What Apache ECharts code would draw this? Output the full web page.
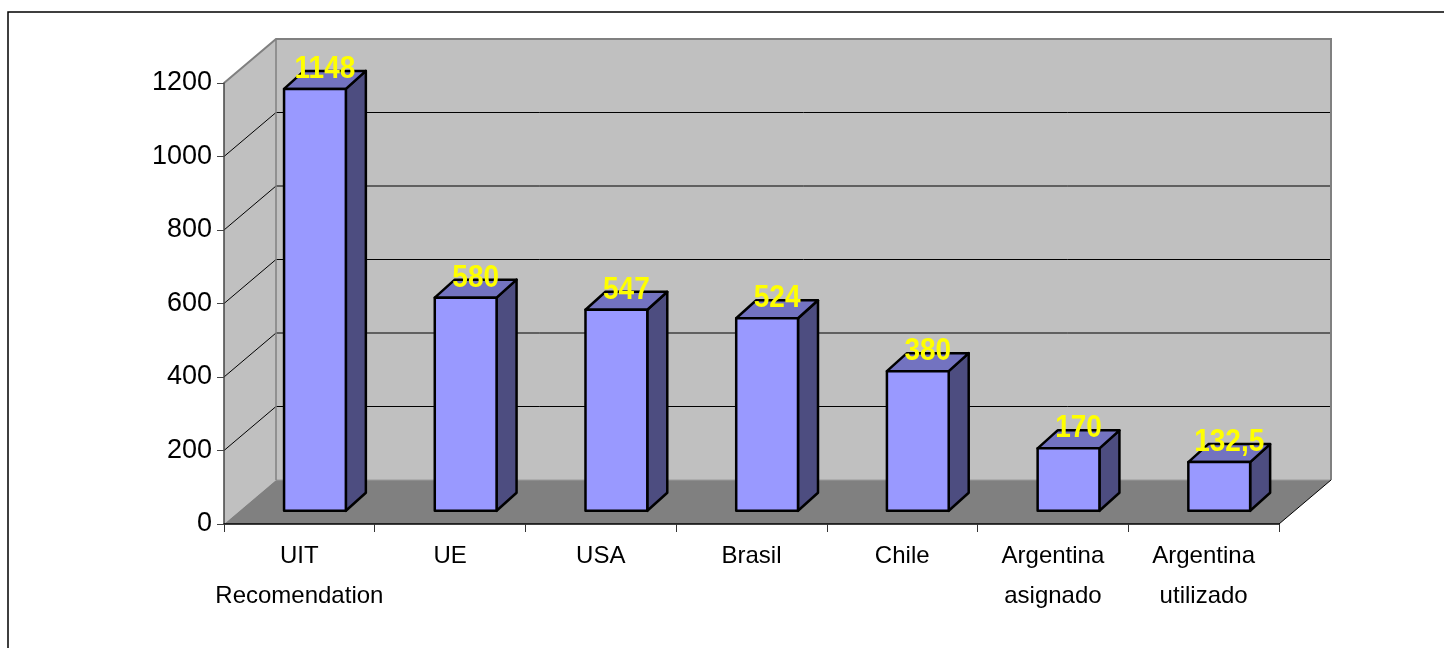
<!DOCTYPE html>
<html>
<head>
<meta charset="utf-8">
<script src="https://cdn.jsdelivr.net/npm/echarts@6/dist/echarts.min.js"></script>
<style>
html,body{margin:0;padding:0;background:#fff;}
#chart{width:1444px;height:648px;}
</style>
</head>
<body>
<div id="chart"></div>
<script>
const categories = ['UIT\nRecomendation', 'UE', 'USA', 'Brasil', 'Chile', 'Argentina\nasignado', 'Argentina\nutilizado'];
const values = [1148, 580, 547, 524, 380, 170, 132.5];
const yTicks = [0, 200, 400, 600, 800, 1000, 1200];

const yMin = yTicks[0], yMax = yTicks[yTicks.length - 1];
const DX = 52, DY = -44;          // depth of the 3D box
const BAR_OFF = 0.3;              // bar front plane position in depth
const BDX = 20, BDY = -18;        // bar depth

function renderWalls(params, api) {
  const band = api.size([1, 0])[0];
  const xL = api.coord([0, yMin])[0] - band / 2;
  const xR = api.coord([categories.length - 1, yMin])[0] + band / 2;
  const yB = api.coord([0, yMin])[1];
  const yT = api.coord([0, yMax])[1];
  const ch = [];
  ch.push({type: 'polygon', shape: {points: [[xL, yT], [xL + DX, yT + DY], [xL + DX, yB + DY], [xL, yB]]}, style: {fill: '#c0c0c0', stroke: null}});
  ch.push({type: 'rect', shape: {x: xL + DX, y: yT + DY, width: xR - xL, height: yB - yT}, style: {fill: '#c0c0c0', stroke: null}});
  ch.push({type: 'polygon', shape: {points: [[xL, yB], [xL + DX, yB + DY], [xR + DX, yB + DY], [xR, yB]]}, style: {fill: '#808080', stroke: null}});
  yTicks.forEach(function (v) {
    if (v === yMin || v === yMax) return;
    const y = api.coord([0, v])[1];
    ch.push({type: 'line', shape: {x1: xL + DX, y1: y + DY, x2: xR + DX, y2: y + DY}, style: {stroke: '#000', lineWidth: 1}});
    ch.push({type: 'line', shape: {x1: xL, y1: y, x2: xL + DX, y2: y + DY}, style: {stroke: '#000', lineWidth: 1}});
  });
  ch.push({type: 'line', shape: {x1: xL + DX, y1: yB + DY, x2: xR + DX, y2: yB + DY}, style: {stroke: '#9a9a9a', lineWidth: 1}});
  ch.push({type: 'line', shape: {x1: xL + DX, y1: yT + DY, x2: xL + DX, y2: yB + DY}, style: {stroke: '#808080', lineWidth: 1.5}});
  ch.push({type: 'polyline', shape: {points: [[xL, yT], [xL + DX, yT + DY], [xR + DX, yT + DY], [xR + DX, yB + DY]]}, style: {stroke: '#808080', lineWidth: 2, fill: null}});
  ch.push({type: 'line', shape: {x1: xR, y1: yB, x2: xR + DX, y2: yB + DY}, style: {stroke: '#000', lineWidth: 1}});
  return {type: 'group', children: ch};
}

function renderBar(params, api) {
  const i = api.value(0), v = api.value(1);
  const band = api.size([1, 0])[0];
  const w = band * 0.41;
  const c = api.coord([i, v]);
  const c0 = api.coord([i, yMin]);
  const ox = BAR_OFF * DX, oy = BAR_OFF * DY;
  const x0 = c[0] + ox - w / 2, x1 = x0 + w;
  const yTop = c[1] + oy, yBot = c0[1] + oy;
  const st = {stroke: '#000', lineWidth: 2.5, lineJoin: 'round'};
  const label = String(values[params.dataIndex]).replace('.', ',');
  return {type: 'group', children: [
    {type: 'polygon', shape: {points: [[x1, yTop], [x1 + BDX, yTop + BDY], [x1 + BDX, yBot + BDY], [x1, yBot]]}, style: Object.assign({fill: '#4d4d80'}, st)},
    {type: 'polygon', shape: {points: [[x0, yTop], [x1, yTop], [x1 + BDX, yTop + BDY], [x0 + BDX, yTop + BDY]]}, style: Object.assign({fill: '#7373c0'}, st)},
    {type: 'rect', shape: {x: x0, y: yTop, width: w, height: yBot - yTop}, style: Object.assign({fill: '#9999ff'}, st)},
    {type: 'text', x: (x0 + x1) / 2 + BDX / 2, y: yTop - 19.5, scaleY: 1.12, style: {text: label, fill: '#ffff00', font: 'bold 28px "Liberation Sans", Arial, sans-serif', align: 'center', verticalAlign: 'middle'}}
  ]};
}

const chart = echarts.init(document.getElementById('chart'));
chart.setOption({
  animation: false,
  backgroundColor: '#fff',
  graphic: [{type: 'rect', shape: {x: 8, y: 12, width: 1460, height: 700}, style: {fill: null, stroke: '#000', lineWidth: 1.5}, z: 100}],
  grid: {left: 224, right: 165, top: 83, bottom: 124},
  xAxis: {
    type: 'category', data: categories, z: 10,
    axisLine: {lineStyle: {color: '#000', width: 1.5}},
    axisTick: {show: true, length: 8, interval: 0, lineStyle: {color: '#333', width: 1}},
    axisLabel: {interval: 0, margin: 12, color: '#000', fontSize: 24, lineHeight: 40, fontFamily: '"Liberation Sans", Arial, sans-serif'},
    splitLine: {show: false}
  },
  yAxis: {
    type: 'value', min: yMin, max: yMax, interval: 200, z: 10,
    axisLine: {show: true, lineStyle: {color: '#444', width: 1.5}},
    axisTick: {show: true, length: 7, lineStyle: {color: '#444', width: 1}},
    axisLabel: {margin: 12, color: '#000', fontSize: 27, fontFamily: '"Liberation Sans", Arial, sans-serif', formatter: function (v) { return String(v); }},
    splitLine: {show: false}
  },
  series: [
    {type: 'custom', z: 1, data: [[0, 0]], renderItem: renderWalls, silent: true},
    {type: 'custom', z: 3, data: values.map(function (v, i) { return [i, v]; }), renderItem: renderBar}
  ]
});
</script>
</body>
</html>
